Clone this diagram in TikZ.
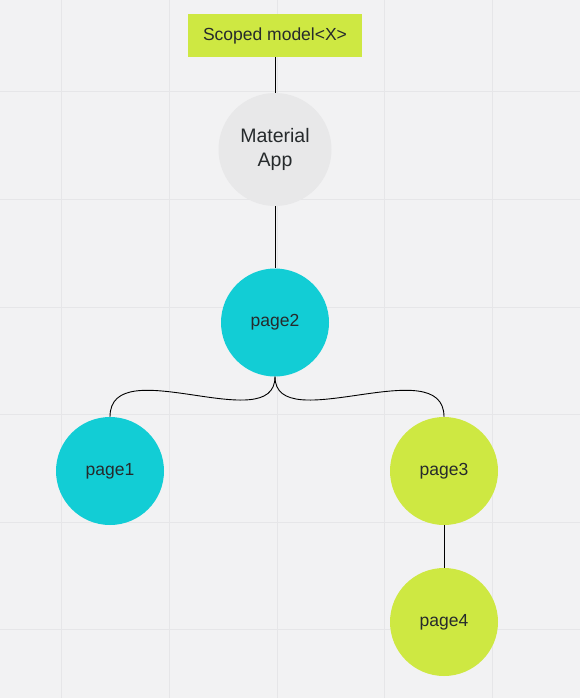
\documentclass[tikz,border=0pt]{standalone}
\usepackage{fontspec}
\setmainfont{Liberation Sans}
\usetikzlibrary{calc}
\definecolor{bgc}{HTML}{F2F2F3}
\definecolor{gridc}{HTML}{E6E6E8}
\definecolor{cyanc}{HTML}{12CDD5}
\definecolor{limec}{HTML}{CEE842}
\definecolor{grayc}{HTML}{E8E8E9}
\definecolor{txtc}{HTML}{262A2C}
\tikzset{
  pagenode/.style={circle, minimum size=108pt, inner sep=0pt, text=txtc, font=\fontsize{17.5}{20}\selectfont},
  cyannode/.style={pagenode, fill=cyanc},
  limenode/.style={pagenode, fill=limec},
  conn/.style={draw=black, line width=0.9pt},
  gridline/.style={draw=gridc, line width=1pt}
}
\begin{document}
\begin{tikzpicture}[x=1pt,y=-1pt]
\useasboundingbox (0,0) rectangle (580,698);
\fill[bgc] (0,0) rectangle (580,698);
\foreach \gx in {61.5,169,277,384.5,492} {\draw[gridline] (\gx,0) -- (\gx,698);}
\foreach \gy in {92,199.5,307,414.5,522,629.5} {\draw[gridline] (0,\gy) -- (580,\gy);}
\node[fill=limec, minimum width=174pt, minimum height=43pt, inner sep=0pt, text=txtc, font=\fontsize{17.5}{20}\selectfont] (scoped) at (275,35.5) {Scoped model<X>};
\node[circle, fill=grayc, minimum size=113pt, inner sep=0pt, text=txtc, align=center, font=\fontsize{19.5}{24}\selectfont] (app) at (275,149.5) {Material\\App};
\node[cyannode] (page2) at (275,322.5) {page2};
\node[cyannode] (page1) at (110,471) {page1};
\node[limenode] (page3) at (444,471) {page3};
\node[limenode] (page4) at (444,622) {page4};
\draw[conn] (scoped.south) -- (app.north);
\draw[conn] (app.south) -- (page2.north);
\draw[conn] (page2.south) .. controls ($(page2.south)+(0,62)$) and ($(page1.north)+(0,-67)$) .. (page1.north);
\draw[conn] (page2.south) .. controls ($(page2.south)+(0,62)$) and ($(page3.north)+(0,-67)$) .. (page3.north);
\draw[conn] (page3.south) -- (page4.north);
\end{tikzpicture}
\end{document}
